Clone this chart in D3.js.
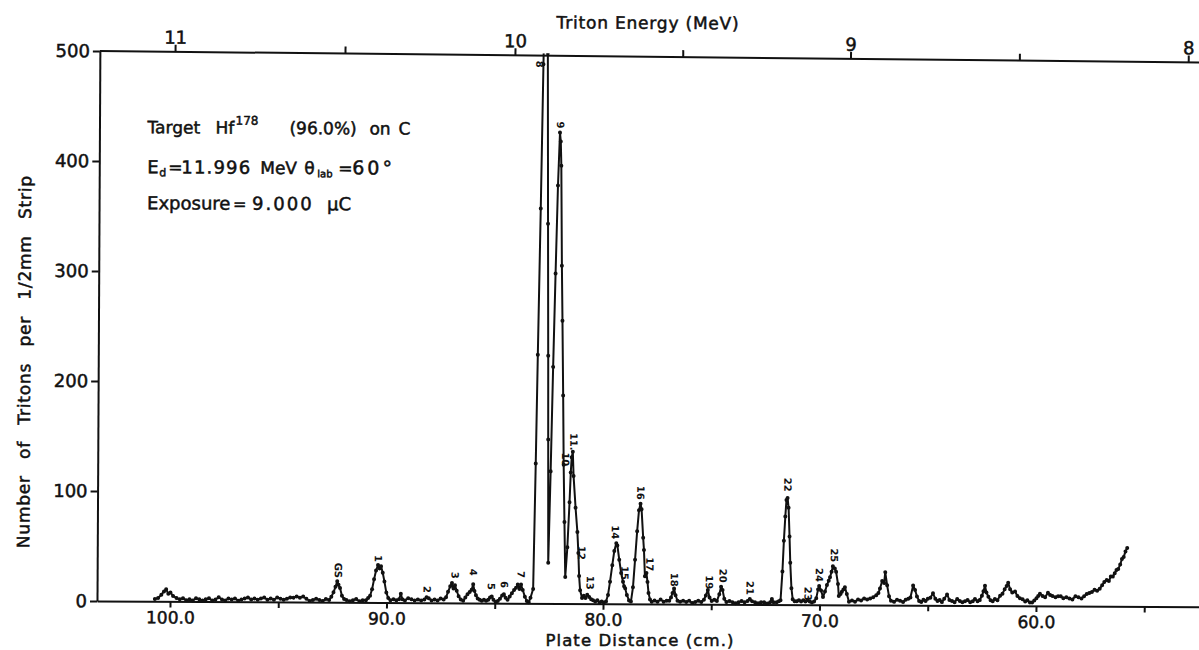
<!DOCTYPE html>
<html>
<head>
<meta charset="utf-8">
<script src="https://cdn.jsdelivr.net/npm/d3@7"></script>
<style>
  body { margin: 0; background: #fff; }
  svg { display: block; }
  text { font-family: "DejaVu Sans", sans-serif; fill: #111; }
</style>
</head>
<body>
<svg id="chart" width="1199" height="650"></svg>
<script>
// Triton spectrum: [plate distance (cm), tritons per 1/2 mm strip]
const spectrum = [
  [100.70,2],[100.55,3],[100.40,6],[100.28,9],[100.18,11],[100.08,7],[99.98,8],[99.86,5],[99.70,3],[99.55,2],
  [99.40,3],[99.25,1],[99.10,2],[98.95,1],[98.80,3],[98.65,2],[98.50,1],[98.35,2],[98.20,3],[98.05,1],
  [97.90,2],[97.75,4],[97.60,2],[97.45,1],[97.30,3],[97.15,2],[97.00,3],[96.85,1],[96.70,2],[96.55,3],
  [96.40,4],[96.25,2],[96.10,3],[95.95,2],[95.80,3],[95.65,4],[95.50,2],[95.35,3],[95.20,2],[95.05,4],
  [94.90,3],[94.75,2],[94.60,3],[94.45,4],[94.30,4],[94.15,5],[94.00,4],[93.85,5],[93.70,3],[93.55,1],
  [93.40,2],[93.25,3],[93.10,2],[92.95,1],[92.80,3],[92.65,2],
  [92.55,5],[92.45,9],[92.36,14],[92.28,19],[92.22,16],[92.15,13],[92.06,6],[91.96,3],[91.85,2],[91.70,1],
  [91.55,2],[91.40,3],[91.25,1],[91.10,2],[90.95,2],[90.85,4],
  [90.76,6],[90.67,12],[90.58,21],[90.49,29],[90.40,34],[90.33,31],[90.26,33],[90.18,27],[90.10,19],[90.01,9],
  [89.92,4],[89.82,2],[89.68,3],[89.55,2],[89.42,3],[89.34,8],[89.27,3],[89.15,2],[89.00,4],[88.85,3],
  [88.70,2],[88.55,3],[88.40,2],[88.25,3],[88.15,5],[88.05,4],[87.92,2],[87.78,3],[87.64,2],[87.50,4],[87.36,3],
  [87.25,5],[87.16,10],[87.06,15],[86.98,18],[86.91,13],[86.84,16],[86.76,11],[86.67,6],[86.57,3],[86.46,2],[86.36,5],
  [86.26,8],[86.16,10],[86.07,12],[86.00,17],[85.94,11],[85.87,7],[85.79,4],[85.70,3],[85.60,2],[85.50,3],[85.40,2],
  [85.30,3],[85.22,5],[85.14,6],[85.06,3],[84.96,1],[84.86,2],
  [84.76,4],[84.66,7],[84.58,8],[84.50,5],[84.41,3],
  [84.31,6],[84.21,9],[84.11,12],[84.02,14],[83.94,17],[83.86,13],[83.79,17],[83.71,12],[83.61,6],[83.52,2],[83.43,1],[83.35,5],
  [83.23,13],[83.14,127],[83.07,226],[82.97,359],[82.88,490],[82.77,640],[82.68,500],[82.63,345],[82.59,225],[82.57,149],[82.54,37],
  [82.45,120],[82.36,215],[82.27,300],[82.18,380],[82.10,428],[82.06,420],[82.03,398],[81.98,307],[81.94,257],[81.89,189],
  [81.85,126],[81.80,74],[81.75,24],
  [81.66,51],[81.57,92],[81.52,119],[81.48,133],[81.43,138],[81.39,116],[81.29,87],[81.20,65],[81.15,46],[81.11,25],
  [81.06,12],[80.97,5],[80.89,7],[80.81,5],[80.73,8],[80.64,6],[80.55,4],[80.46,3],[80.36,2],[80.26,3],
  [80.16,1],[80.06,2],[79.96,1],
  [79.86,2],[79.77,8],[79.68,20],[79.58,35],[79.49,48],[79.40,55],[79.35,53],[79.26,40],[79.17,28],[79.08,20],
  [79.03,16],[78.98,14],[78.90,8],[78.80,3],
  [78.71,2],[78.62,15],[78.53,40],[78.44,66],[78.36,85],[78.29,91],[78.24,86],[78.16,60],[78.12,49],[78.07,25],
  [78.00,28],[77.95,20],[77.90,10],[77.83,4],[77.75,2],[77.62,3],[77.48,2],[77.34,4],[77.20,2],[77.06,3],
  [76.94,3],[76.86,6],[76.79,10],[76.72,14],[76.65,8],[76.56,3],[76.44,2],[76.30,3],[76.16,2],[76.02,3],
  [75.88,1],[75.74,2],[75.60,3],[75.46,2],[75.34,4],
  [75.25,8],[75.16,13],[75.08,6],[74.98,3],[74.86,4],[74.74,3],
  [74.63,9],[74.55,16],[74.48,13],[74.40,5],[74.30,2],[74.16,3],[74.02,2],[73.88,1],[73.74,2],[73.60,3],[73.46,2],
  [73.32,3],[73.22,5],[73.12,3],[72.98,2],[72.84,1],[72.70,2],[72.56,2],[72.42,1],[72.28,2],[72.20,5],
  [72.12,2],[71.98,2],[71.88,3],
  [71.80,4],[71.72,30],[71.66,58],[71.60,80],[71.55,95],[71.50,97],[71.45,88],[71.40,62],[71.36,38],[71.30,15],
  [71.24,5],[71.15,3],
  [71.05,3],[70.95,4],[70.85,3],[70.75,4],[70.65,3],[70.55,4],[70.45,3],[70.35,2],[70.25,3],[70.15,6],
  [70.07,14],[70.02,17],[69.93,13],[69.84,7],[69.75,12],[69.66,18],[69.58,22],[69.52,25],[69.45,30],[69.39,35],
  [69.30,33],[69.24,30],[69.15,19],[69.11,8],[69.03,10],[68.97,12],[68.90,14],[68.83,16],[68.74,10],[68.64,3],
  [68.50,4],[68.36,3],[68.22,5],[68.08,4],[67.94,6],[67.80,5],[67.66,6],[67.52,7],[67.38,9],[67.28,11],
  [67.21,15],[67.11,22],[67.02,20],[66.97,30],[66.88,18],[66.79,8],[66.70,4],[66.56,3],[66.42,5],[66.28,4],
  [66.14,3],[66.02,5],
  [65.90,6],[65.80,7],[65.68,18],[65.59,14],[65.50,8],[65.40,4],[65.30,3],[65.20,5],[65.10,4],[65.00,6],
  [64.88,7],[64.76,11],[64.65,6],[64.55,4],[64.45,5],[64.35,3],[64.24,6],[64.11,10],[64.00,5],[63.88,4],
  [63.76,3],[63.64,6],[63.52,4],[63.40,3],[63.28,4],[63.16,5],[63.04,3],[62.92,4],[62.82,6],[62.70,4],
  [62.60,5],[62.50,9],[62.43,13],[62.36,18],[62.29,12],[62.20,8],[62.10,5],[62.00,4],[61.90,6],[61.78,5],
  [61.66,9],[61.55,11],[61.45,15],[61.36,18],[61.29,21],[61.20,15],[61.10,12],[60.97,13],[60.86,9],[60.75,7],
  [60.62,6],[60.50,4],[60.40,5],[60.28,3],[60.18,3],[60.08,5],[59.98,7],[59.90,9],[59.82,11],[59.70,9],
  [59.58,8],[59.45,12],[59.35,10],[59.24,9],[59.10,8],[58.98,9],[58.86,9],[58.74,7],[58.60,8],[58.46,7],
  [58.32,6],[58.18,9],[58.04,8],[57.90,7],[57.78,9],[57.66,11],[57.54,12],[57.42,13],[57.30,15],[57.18,14],
  [57.06,16],[56.95,19],[56.85,22],[56.74,24],[56.64,23],[56.55,27],[56.46,27],[56.37,30],[56.29,33],[56.21,34],
  [56.12,38],[56.04,43],[55.96,45],[55.88,50],[55.80,53]
];

// Axis ticks
const distTicks = [100, 90, 80, 70, 60];
const distMinorTicks = [95, 85, 75, 65, 55];
const countTicks = [0, 100, 200, 300, 400, 500];
const energyTicks = [11, 10, 9, 8];
const energyMinorTicks = [10.5, 9.5, 8.5];
// Energy calibration of the plate: triton energy (MeV) and plate distance (cm)
const calEnergy = [11, 10, 9, 8];
const calDistance = [99.9, 84.2, 68.7, 53.1];

// Level identifications: label, plate distance (cm), count level where the label sits
const peakLabels = [
  ["GS", 92.24, 29], ["1", 90.39, 40], ["2", 88.13, 12], ["3", 86.84, 25], ["4", 86.0, 28],
  ["5", 85.17, 15], ["6", 84.57, 17], ["7", 83.79, 26], ["8", 83.05, 490], ["9", 82.08, 435],
  ["10", 81.77, 131], ["11.", 81.39, 147], ["12", 81.00, 46], ["13", 80.60, 19], ["14", 79.45, 65],
  ["15", 79.00, 28], ["16", 78.29, 101], ["17", 77.85, 36], ["18", 76.72, 22], ["19", 75.10, 20],
  ["20", 74.46, 26], ["21", 73.21, 15], ["22", 71.50, 109], ["23", 70.53, 10], ["24", 70.02, 27],
  ["25", 69.33, 45]
];

const svg = d3.select("#chart");
const frameLeft = 97, frameRight = 1199, frameTop = 51, frameBottom = 601;

const x = d3.scaleLinear().domain([100, 60]).range([170, 1036]);
const y = d3.scaleLinear().domain([0, 500]).range([frameBottom, frameTop]);
const xFrame = x.copy().domain([x.invert(frameLeft), x.invert(frameRight)]).range([frameLeft, frameRight]);
const eScale = d3.scaleLinear().domain(calEnergy).range(calDistance.map(x));

// the plate sheet sits slightly askew
const tilt = 0.3, topExtraTilt = 0.3;
const g = svg.append("g").attr("transform", `rotate(${tilt},${frameLeft},${frameBottom})`);

g.append("clipPath").attr("id", "plotClip")
  .append("rect").attr("x", frameLeft).attr("y", frameTop)
  .attr("width", frameRight - frameLeft).attr("height", 650 - frameTop);

// spectrum trace
const plot = g.append("g").attr("clip-path", "url(#plotClip)");
plot.append("path")
  .datum(spectrum)
  .attr("fill", "none")
  .attr("stroke", "#111")
  .attr("stroke-width", 2)
  .attr("stroke-linejoin", "round")
  .attr("d", d3.line().x(d => x(d[0])).y(d => y(d[1])));
plot.selectAll("circle.pt")
  .data(spectrum)
  .join("circle")
  .attr("class", "pt")
  .attr("cx", d => x(d[0]))
  .attr("cy", d => y(d[1]))
  .attr("r", 2)
  .attr("fill", "#111");

function styleAxis(sel, size) {
  sel.attr("font-family", null).attr("font-size", size);
  sel.selectAll("path.domain").attr("stroke", "#111").attr("stroke-width", 2);
  sel.selectAll(".tick line").attr("stroke", "#111").attr("stroke-width", 2);
  sel.selectAll(".tick text").attr("fill", "#111").attr("stroke", "#111").attr("stroke-width", 0.5);
}

// bottom: plate distance
const bx = g.append("g").attr("transform", `translate(0,${frameBottom})`)
  .call(d3.axisBottom(xFrame).tickValues(distTicks).tickFormat(d3.format(".1f"))
    .tickSizeInner(6).tickSizeOuter(0).tickPadding(4));
styleAxis(bx, 17);
const bxm = g.append("g").attr("transform", `translate(0,${frameBottom})`)
  .call(d3.axisBottom(xFrame).tickValues(distMinorTicks).tickFormat("").tickSize(6));
styleAxis(bxm, 17);
bxm.select("path.domain").remove();

// left: counts
const ly = g.append("g").attr("transform", `translate(${frameLeft},0)`)
  .call(d3.axisLeft(y).tickValues(countTicks).tickFormat(d3.format("d"))
    .tickSizeInner(7).tickSizeOuter(0).tickPadding(3));
styleAxis(ly, 18);

// top: triton energy
const topG = g.append("g").attr("transform", `rotate(${topExtraTilt},${frameLeft},${frameTop})`);
topG.append("line").attr("x1", frameLeft).attr("x2", frameRight).attr("y1", frameTop).attr("y2", frameTop)
  .attr("stroke", "#111").attr("stroke-width", 2);
const tx = topG.append("g").attr("transform", `translate(0,${frameTop})`)
  .call(d3.axisTop(eScale).tickValues(energyTicks).tickFormat(d3.format("d"))
    .tickSizeInner(7).tickSizeOuter(0).tickPadding(1));
styleAxis(tx, 18);
tx.select("path.domain").remove();
const txm = topG.append("g").attr("transform", `translate(0,${frameTop})`)
  .call(d3.axisTop(eScale).tickValues(energyMinorTicks).tickFormat("").tickSize(7));
styleAxis(txm, 18);
txm.select("path.domain").remove();

// axis titles
const titles = g.append("g").attr("stroke", "#111").attr("stroke-width", 0.5);
titles.append("text").attr("x", 645).attr("y", 26).attr("text-anchor", "middle")
  .attr("font-size", 17).attr("letter-spacing", 0.8)
  .text("Triton Energy (MeV)");
titles.append("text").attr("transform", "translate(29,362) rotate(-90)").attr("text-anchor", "middle")
  .attr("font-size", 17).attr("letter-spacing", 0.8).attr("word-spacing", 10)
  .text("Number of Tritons per 1/2mm Strip");
svg.append("text").attr("x", 640).attr("y", 646).attr("text-anchor", "middle")
  .attr("font-size", 16.5).attr("letter-spacing", 1.1)
  .attr("stroke", "#111").attr("stroke-width", 0.5)
  .text("Plate Distance (cm.)");

// level labels
g.append("g").selectAll("text")
  .data(peakLabels)
  .join("text")
  .attr("transform", d => `translate(${x(d[1])},${y(d[2])}) rotate(90)`)
  .attr("text-anchor", "middle")
  .attr("dominant-baseline", "central")
  .attr("font-size", 10)
  .attr("font-weight", "bold")
  .text(d => d[0]);

// run conditions
const note = g.append("g").attr("stroke", "#111").attr("stroke-width", 0.5);
function seg(parent, tx, ty, str, size, opts = {}) {
  const t = parent.append("text").attr("x", tx).attr("y", ty).attr("font-size", size).text(str);
  if (opts.ls) t.attr("letter-spacing", opts.ls);
  return t;
}
seg(note, 145, 133, "Target", 17);
seg(note, 213, 133, "Hf", 17);
seg(note, 233, 124, "178", 12);
seg(note, 287, 133, "(96.0%)", 17);
seg(note, 367, 133, "on", 17);
seg(note, 396, 133, "C", 17);

seg(note, 145, 173, "E", 18);
seg(note, 157, 176, "d", 11);
seg(note, 166, 173, "=", 17);
seg(note, 179, 173, "11.996", 18, { ls: 1.2 });
seg(note, 258, 173, "MeV", 17);
seg(note, 302, 173, "θ", 17);
seg(note, 315, 176, "lab", 10);
seg(note, 336, 173, "=", 17);
seg(note, 350, 173, "60°", 19, { ls: 3 });

seg(note, 145, 209, "Exposure", 18);
seg(note, 231, 209, "=", 16);
seg(note, 250, 209, "9.000", 18, { ls: 2 });
seg(note, 325, 209, "μC", 18);
</script>
</body>
</html>
